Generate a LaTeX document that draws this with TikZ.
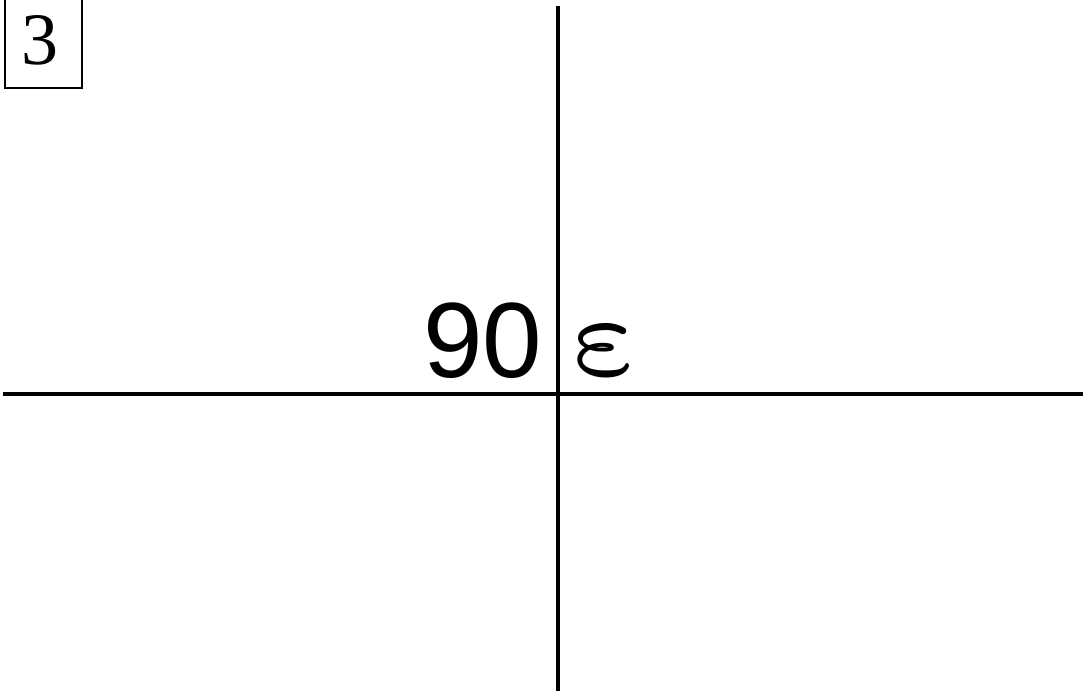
\documentclass[tikz,border=0pt]{standalone}
\usepackage{fontspec}
\setmainfont{Liberation Serif}
\newfontfamily\arialf{Liberation Sans}
\begin{document}
\begin{tikzpicture}[x=1pt,y=-1pt,
  axis/.style={line width=4pt},
  boxline/.style={line width=1.3pt}]
\useasboundingbox (0,0) rectangle (1083,695);
\draw[boxline] (5,-3) rectangle (82,88);
\node[inner sep=0, anchor=base] (three) at (40,65) {\fontsize{74}{80}\selectfont 3};
\coordinate (vt) at (558,6);
\coordinate (vb) at (558,691);
\coordinate (hl) at (3,394);
\coordinate (hr) at (1083,394);
\draw[axis] (vt) -- (vb);
\draw[axis] (hl) -- (hr);
\node[inner sep=0, anchor=base] (ninety) at (483,377) {\arialf\fontsize{107}{120}\selectfont 90};
\node[inner sep=0, anchor=base, xslant=-0.22, scale=23, transform shape] (eps) at (609,375) {$\scriptscriptstyle\varepsilon$};
\end{tikzpicture}
\end{document}
